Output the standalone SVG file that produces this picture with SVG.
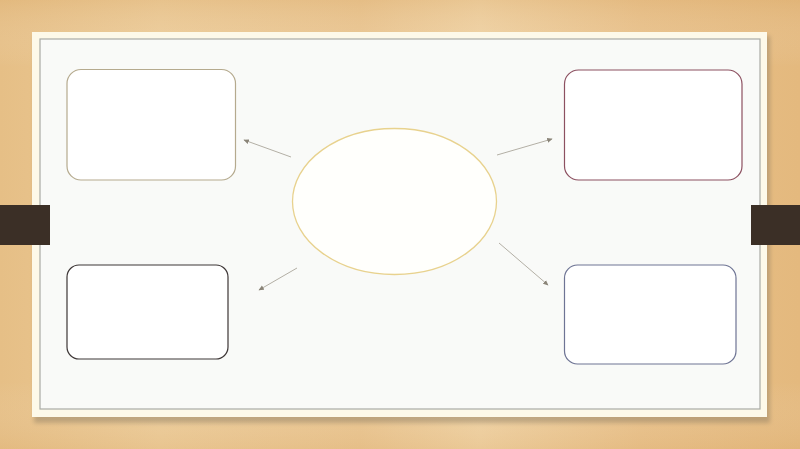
<svg xmlns="http://www.w3.org/2000/svg" width="800" height="449" viewBox="0 0 800 449">
<defs>
<linearGradient id="wood" x1="0" y1="0" x2="1" y2="0">
<stop offset="0" stop-color="#e6bf86"/>
<stop offset="0.2" stop-color="#eccb98"/>
<stop offset="0.45" stop-color="#e9c48f"/>
<stop offset="0.6" stop-color="#efd1a2"/>
<stop offset="0.8" stop-color="#e8c089"/>
<stop offset="1" stop-color="#e4b97e"/>
</linearGradient>
<linearGradient id="woodv" x1="0" y1="0" x2="0" y2="1">
<stop offset="0" stop-color="#d9a868" stop-opacity="0.25"/>
<stop offset="0.15" stop-color="#ffffff" stop-opacity="0"/>
<stop offset="0.85" stop-color="#ffffff" stop-opacity="0"/>
<stop offset="1" stop-color="#d9a868" stop-opacity="0.2"/>
</linearGradient>
<filter id="sh" x="-5%" y="-5%" width="110%" height="115%">
<feGaussianBlur stdDeviation="2"/>
</filter>
<marker id="ah" viewBox="0 0 10 10" refX="8" refY="5" markerWidth="6" markerHeight="6" orient="auto">
<path d="M0,1 L9,5 L0,9 z" fill="#8a8478"/>
</marker>
<style>
.conn{stroke:#b3afa5;stroke-width:1;fill:none;marker-end:url(#ah)}
.box{fill:#ffffff;stroke-width:1.2}
</style>
</defs>
<rect x="0" y="0" width="800" height="449" fill="url(#wood)"/>
<rect x="0" y="0" width="800" height="449" fill="url(#woodv)"/>
<g id="board">
<rect x="34" y="36" width="736" height="387" fill="#8a7a60" opacity="0.45" filter="url(#sh)"/>
<rect x="32" y="32" width="735" height="385" fill="#fdf9e9"/>
<rect x="40" y="39" width="720" height="370" fill="#f9faf8" stroke="#a9aba6" stroke-width="1.2"/>
</g>
<g id="tabs">
<rect x="0" y="205" width="50" height="40" fill="#3b2f26"/>
<rect x="751" y="205" width="49" height="40" fill="#3b2f26"/>
</g>
<g id="node-top-left">
<rect class="box" x="67" y="69.5" width="168.5" height="110.5" rx="14" fill="#fefefc" stroke="#b5aa8e"/>
</g>
<g id="node-bottom-left">
<rect class="box" x="67" y="265" width="161" height="94" rx="12" stroke="#3d3636"/>
</g>
<g id="node-top-right">
<rect class="box" x="564.5" y="70" width="177.5" height="110" rx="14" fill="#fffdfd" stroke="#8c5060"/>
</g>
<g id="node-bottom-right">
<rect class="box" x="564.5" y="265" width="171.5" height="99" rx="13" fill="#fdfeff" stroke="#6e7494"/>
</g>
<g id="node-center">
<ellipse cx="394.5" cy="201.5" rx="102" ry="73" fill="#fffffc" stroke="#e8d28e" stroke-width="1.3"/>
</g>
<g id="connectors">
<line class="conn" x1="291" y1="157" x2="244" y2="140"/>
<line class="conn" x1="497" y1="155" x2="552" y2="139"/>
<line class="conn" x1="297" y1="268" x2="259" y2="290"/>
<line class="conn" x1="499" y1="243" x2="548" y2="285"/>
</g>
</svg>
